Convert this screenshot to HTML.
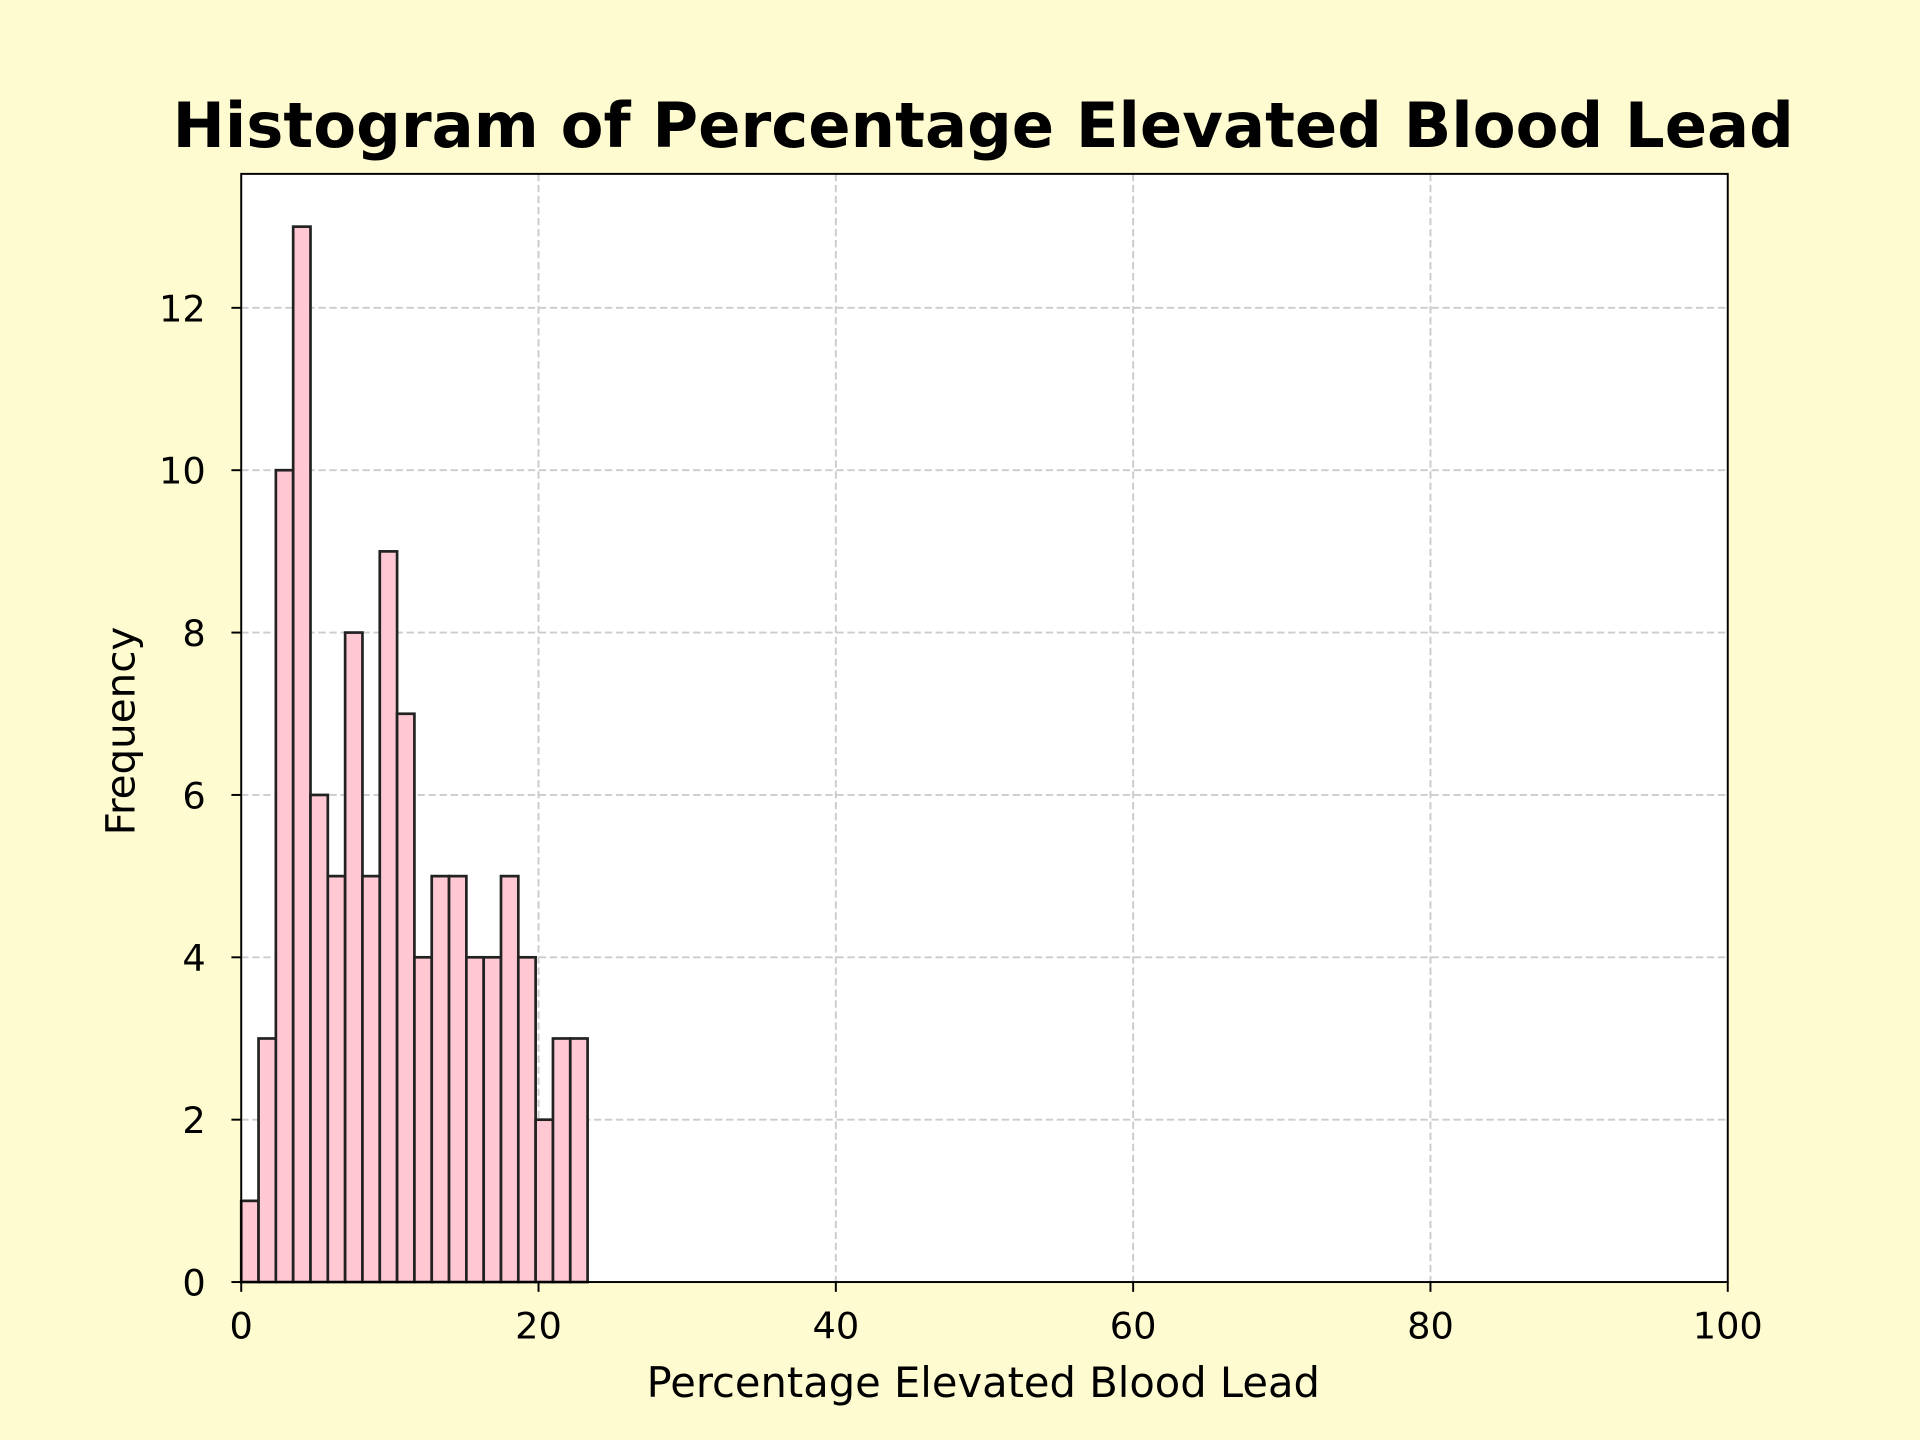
<!DOCTYPE html>
<html><head><meta charset="utf-8"><style>
html,body{margin:0;padding:0;background:#fffbd0;}
svg{display:block;font-family:"DejaVu Sans","Liberation Sans",sans-serif;}
</style></head><body>
<svg id="chart" width="1920" height="1440" viewBox="0 0 1568 1176" xmlns="http://www.w3.org/2000/svg">
<rect x="0" y="0" width="1568" height="1176" fill="#fffbd0"/>
<rect x="197" y="142" width="1214" height="905" fill="#ffffff"/>
<g id="grid"></g>
<g id="bars"></g>
<rect x="197" y="142" width="1214" height="905" fill="none" stroke="#000" stroke-width="1.6"/>
<g id="xticks"></g>
<g id="yticks"></g>
<text x="803" y="120" text-anchor="middle" font-size="51" font-weight="bold">Histogram of Percentage Elevated Blood Lead</text>
<text x="803" y="1141" text-anchor="middle" font-size="34">Percentage Elevated Blood Lead</text>
<text transform="translate(110,597) rotate(-90)" text-anchor="middle" font-size="33">Frequency</text>
</svg>
<script>
const binStart = 0;
const binWidth = 1.165;
const counts = [1,3,10,13,6,5,8,5,9,7,4,5,5,4,4,5,4,2,3,3];
const xTicks = [0,20,40,60,80,100];
const yTicks = [0,2,4,6,8,10,12];

const X0=197,X1=1411,Y0=1047,Y1=142;
const xMin=0,xMax=100,yMin=0,yMax=13.65;
const sx=v=>X0+(v-xMin)/(xMax-xMin)*(X1-X0);
const sy=v=>Y0-(v-yMin)/(yMax-yMin)*(Y0-Y1);
const NS="http://www.w3.org/2000/svg";
function mk(tag,attrs,parent){const e=document.createElementNS(NS,tag);for(const k in attrs)e.setAttribute(k,attrs[k]);parent.appendChild(e);return e;}
const grid=document.getElementById('grid'),bars=document.getElementById('bars'),xt=document.getElementById('xticks'),yt=document.getElementById('yticks');
xTicks.forEach(t=>{
  const x=sx(t);
  if(t>xMin&&t<xMax){const g=mk('line',{x1:x,x2:x,y1:Y1,y2:Y0,stroke:'#cccccc','stroke-width':1.6,'stroke-dasharray':'6,3'},grid);
  
  }
  const l=mk('line',{x1:x,x2:x,y1:Y0,y2:Y0+8,stroke:'#000','stroke-width':1.6},xt);
  
  
  const tx=mk('text',{x:x,y:Y0+46,'text-anchor':'middle','font-size':30},xt);tx.textContent=t;
  
  
});
yTicks.forEach(t=>{
  const y=sy(t);
  if(t>yMin){const g=mk('line',{x1:X0,x2:X1,y1:y,y2:y,stroke:'#cccccc','stroke-width':1.6,'stroke-dasharray':'6,3'},grid);
  
  }
  const l=mk('line',{x1:X0-8,x2:X0,y1:y,y2:y,stroke:'#000','stroke-width':1.6},yt);
  
  
  const tx=mk('text',{x:X0-29,y:y+11,'text-anchor':'end','font-size':30},yt);tx.textContent=t;
  
  
});
counts.forEach((c,i)=>{
  const a=binStart+i*binWidth,b=a+binWidth;
  const r=mk('rect',{x:sx(a),y:sy(c),width:sx(b)-sx(a),height:sy(0)-sy(c),fill:'#ffc8d2',stroke:'#222','stroke-width':2.2},bars);
  
  
});
</script>
</body></html>
